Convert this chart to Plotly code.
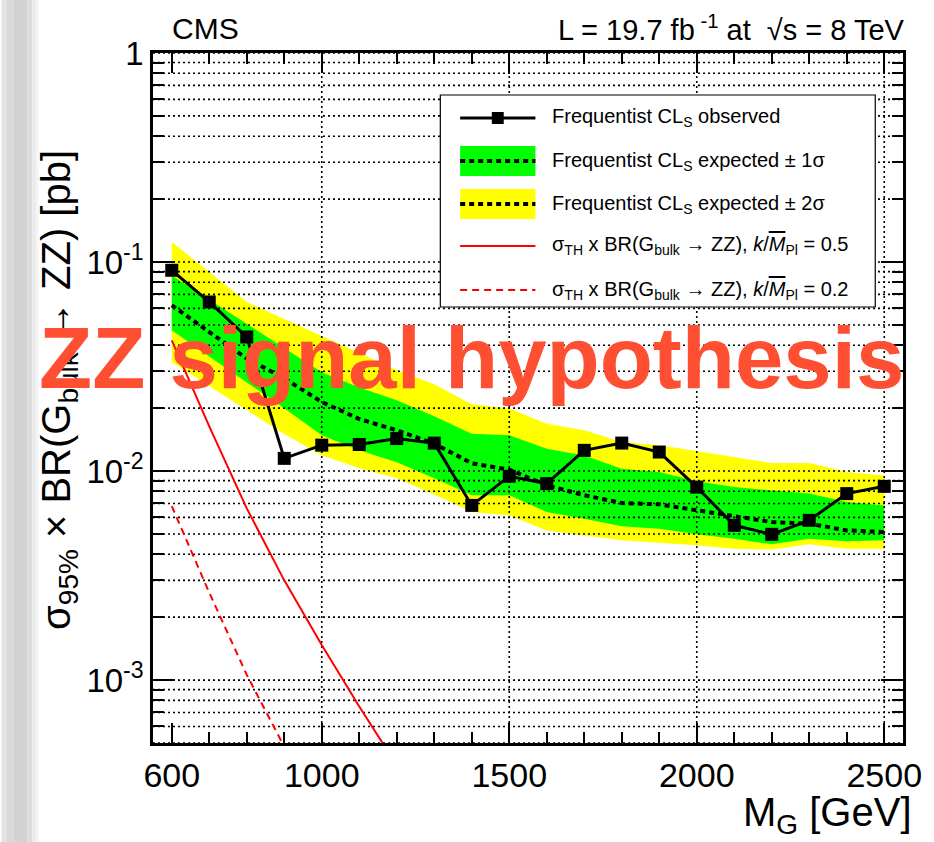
import plotly.graph_objects as go

# ---------------- data ----------------
mass = [600, 700, 800, 900, 1000, 1100, 1200, 1300, 1400, 1500,
        1600, 1700, 1800, 1900, 2000, 2100, 2200, 2300, 2400, 2500]

observed = [0.0913, 0.0644, 0.0438, 0.0115, 0.0133, 0.0134, 0.0143, 0.0136, 0.00685, 0.00944,
            0.00871, 0.01256, 0.01361, 0.01233, 0.00838, 0.00550, 0.00498, 0.00581, 0.00780, 0.00845]

expected = [0.0621, 0.0462, 0.0345, 0.0278, 0.0214, 0.01774, 0.01566, 0.01352, 0.01089, 0.01016,
            0.00855, 0.00766, 0.00703, 0.00693, 0.00649, 0.00603, 0.00570, 0.00560, 0.00520, 0.00511]

exp_p1 = [0.0863, 0.0661, 0.0509, 0.0389, 0.0297, 0.0251, 0.0218, 0.0183, 0.0151, 0.01482,
          0.01279, 0.01188, 0.01026, 0.00989, 0.00893, 0.00838, 0.00809, 0.00780, 0.00711, 0.00685]
exp_m1 = [0.0471, 0.0353, 0.0267, 0.0200, 0.01482, 0.01256, 0.01101, 0.00923, 0.00765, 0.00765,
          0.00637, 0.00592, 0.00544, 0.00530, 0.00498, 0.00475, 0.00446, 0.00475, 0.00462, 0.00466]
exp_p2 = [0.1247, 0.0893, 0.0644, 0.0534, 0.0443, 0.0367, 0.0304, 0.0260, 0.0209, 0.0199,
          0.01686, 0.01566, 0.01377, 0.01328, 0.01243, 0.01167, 0.01092, 0.01092, 0.00989, 0.00953]
exp_m2 = [0.0332, 0.0254, 0.0196, 0.01503, 0.01189, 0.01030, 0.00923, 0.00773, 0.00637, 0.00614,
          0.00520, 0.00492, 0.00466, 0.00452, 0.00441, 0.00425, 0.00421, 0.00446, 0.00425, 0.00425]

# theory cross sections for two couplings
th_mass = [600, 700, 800, 900, 1000, 1100, 1200]
th_k05 = [0.0422, 0.01636, 0.00663, 0.00300, 0.00147, 0.000748, 0.000391]
th_k02 = [0.0068, 0.00262, 0.00106, 0.00048, 0.000235, 0.00012, 0.000063]

x_range = [550, 2550]
y_range = [5e-4, 1.0]
x_tick_vals = [600, 1000, 1500, 2000, 2500]
x_tick_text = ["600", "1000", "1500", "2000", "2500"]
x_grid_vals = [1000, 1500, 2000, 2500]
y_tick_vals = [1e-3, 1e-2, 1e-1, 1.0]
y_tick_text = ["10<sup>-3</sup>", "10<sup>-2</sup>", "10<sup>-1</sup>", "1"]
y_decades = [1e-4, 1e-3, 1e-2, 1e-1]
y_grid_vals = [m * d for d in y_decades for m in range(1, 10)
               if y_range[0] <= m * d <= y_range[1]] + [1.0]
y_minor_vals = [v for v in y_grid_vals if v not in y_tick_vals]

# ---------------- geometry ----------------
W, H = 934, 842
ML, MR, MT, MB = 153, 24, 53, 99
PW, PH = W - ML - MR, H - MT - MB
FONT = "Liberation Sans, Arial, Helvetica, sans-serif"


def px(xp):
    return (xp - ML) / PW


def py(yp):
    return 1 - (yp - MT) / PH


fig = go.Figure()

# +-2 sigma band
fig.add_trace(go.Scatter(x=mass + mass[::-1], y=exp_p2 + exp_m2[::-1], fill="toself",
                         fillcolor="#FFFF00", line=dict(width=0), mode="lines",
                         hoverinfo="skip", showlegend=False))
# +-1 sigma band
fig.add_trace(go.Scatter(x=mass + mass[::-1], y=exp_p1 + exp_m1[::-1], fill="toself",
                         fillcolor="#00FF00", line=dict(width=0), mode="lines",
                         hoverinfo="skip", showlegend=False))

# dotted grid drawn over the bands
gx, gy = [], []
for v in y_grid_vals:
    gx += [x_range[0], x_range[1], None]
    gy += [v, v, None]
for g in x_grid_vals:
    gx += [g, g, None]
    gy += [y_range[0], y_range[1], None]
fig.add_trace(go.Scatter(x=gx, y=gy, mode="lines",
                         line=dict(color="black", width=1.6, dash="2px,3px"),
                         hoverinfo="skip", showlegend=False))

# expected limit
fig.add_trace(go.Scatter(x=mass, y=expected, mode="lines",
                         line=dict(color="black", width=4, dash="5px,4px"),
                         showlegend=False))
# observed limit
fig.add_trace(go.Scatter(x=mass, y=observed, mode="lines+markers",
                         line=dict(color="black", width=3),
                         marker=dict(symbol="square", size=13, color="black"),
                         showlegend=False))
# theory curves
fig.add_trace(go.Scatter(x=th_mass, y=th_k05, mode="lines",
                         line=dict(color="#FF0000", width=2), showlegend=False))
fig.add_trace(go.Scatter(x=th_mass, y=th_k02, mode="lines",
                         line=dict(color="#FF0000", width=2, dash="7px,5px"), showlegend=False))

shapes = []
# grey strip at the far left of the page
strip = [(0, 5, "#e4e4e4"), (5, 12, "#d9d9d9"), (12, 26, "#d2d2d2"),
         (26, 31, "#dcdcdc"), (31, 35, "#ebebeb"), (35, 38, "#f6f6f6")]
for a, b, c in strip:
    shapes.append(dict(type="rect", xref="paper", yref="paper", x0=px(a), x1=px(b),
                       y0=py(H), y1=py(0), fillcolor=c, line=dict(width=0), layer="below"))

# legend box
LX0, LX1, LY0, LY1 = 443, 882, 95, 307
shapes.append(dict(type="rect", xref="paper", yref="paper", x0=px(LX0), x1=px(LX1),
                   y0=py(LY1), y1=py(LY0), fillcolor="white",
                   line=dict(color="black", width=1.2), layer="above"))
SX0, SX1 = 463, 539
rows = [118, 161, 204, 246, 290]
# observed entry
shapes.append(dict(type="line", xref="paper", yref="paper", x0=px(SX0), x1=px(SX1),
                   y0=py(rows[0]), y1=py(rows[0]), line=dict(color="black", width=3), layer="above"))
shapes.append(dict(type="rect", xref="paper", yref="paper", x0=px(495), x1=px(507),
                   y0=py(rows[0] + 6), y1=py(rows[0] - 6), fillcolor="black",
                   line=dict(width=0), layer="above"))
# band entries
for yc, col in [(rows[1], "#00FF00"), (rows[2], "#FFFF00")]:
    shapes.append(dict(type="rect", xref="paper", yref="paper", x0=px(SX0), x1=px(SX1),
                       y0=py(yc + 15), y1=py(yc - 15), fillcolor=col,
                       line=dict(width=0), layer="above"))
    shapes.append(dict(type="line", xref="paper", yref="paper", x0=px(SX0), x1=px(SX1),
                       y0=py(yc), y1=py(yc), line=dict(color="black", width=4, dash="5px,4px"),
                       layer="above"))
# theory entries
shapes.append(dict(type="line", xref="paper", yref="paper", x0=px(SX0), x1=px(SX1),
                   y0=py(rows[3]), y1=py(rows[3]), line=dict(color="#FF0000", width=2), layer="above"))
shapes.append(dict(type="line", xref="paper", yref="paper", x0=px(SX0), x1=px(SX1),
                   y0=py(rows[4]), y1=py(rows[4]), line=dict(color="#FF0000", width=2, dash="7px,5px"),
                   layer="above"))

legend_texts = [
    "Frequentist CL<sub>S</sub> observed",
    "Frequentist CL<sub>S</sub> expected ± 1σ",
    "Frequentist CL<sub>S</sub> expected ± 2σ",
    "σ<sub>TH</sub> x BR(G<sub>bulk</sub> → ZZ), <i>k</i>/<i><span style=\"text-decoration:overline\">M</span></i><sub>Pl</sub> = 0.5",
    "σ<sub>TH</sub> x BR(G<sub>bulk</sub> → ZZ), <i>k</i>/<i><span style=\"text-decoration:overline\">M</span></i><sub>Pl</sub> = 0.2",
]

annotations = []
for yc, t in zip(rows, legend_texts):
    annotations.append(dict(x=px(554), y=py(yc), xref="paper", yref="paper", text=t,
                            xanchor="left", yanchor="middle", showarrow=False,
                            font=dict(family=FONT, size=20, color="black")))

annotations += [
    dict(x=px(170), y=py(28), xref="paper", yref="paper", text="CMS",
         xanchor="left", yanchor="middle", showarrow=False,
         font=dict(family=FONT, size=30, color="black")),
    dict(x=px(914), y=py(28), xref="paper", yref="paper",
         text="L = 19.7 fb<sup> -1</sup> at  √s = 8 TeV",
         xanchor="right", yanchor="middle", showarrow=False,
         font=dict(family=FONT, size=29, color="black")),
    dict(x=px(58), y=py(390), xref="paper", yref="paper",
         text="σ<sub>95%</sub> × BR(G<sub>bulk</sub> → ZZ) [pb]", textangle=-90,
         xanchor="center", yanchor="middle", showarrow=False,
         font=dict(family=FONT, size=40, color="black")),
    dict(x=px(921), y=py(815), xref="paper", yref="paper", text="M<sub>G</sub> [GeV]",
         xanchor="right", yanchor="middle", showarrow=False,
         font=dict(family=FONT, size=40, color="black")),
    dict(x=px(474), y=py(357), xref="paper", yref="paper", text="<b>ZZ signal hypothesis</b>",
         xanchor="center", yanchor="middle", showarrow=False,
         font=dict(family=FONT, size=87, color="#FF4F33")),
]

fig.update_layout(
    width=W, height=H, autosize=False,
    margin=dict(l=ML, r=MR, t=MT, b=MB, pad=0),
    paper_bgcolor="white", plot_bgcolor="white",
    showlegend=False,
    shapes=shapes, annotations=annotations,
    font=dict(family=FONT, color="black"),
)
fig.update_xaxes(range=x_range, showgrid=False, zeroline=False,
                 showline=True, linecolor="black", linewidth=2.5, mirror="allticks",
                 ticks="inside", ticklen=20, tickwidth=1.5, tickcolor="black",
                 tickmode="array", tickvals=x_tick_vals, ticktext=x_tick_text,
                 tickfont=dict(family=FONT, size=34, color="black"),
                 minor=dict(ticks="inside", ticklen=11, tickwidth=1.5, tickcolor="black",
                            dtick=100, tick0=500, showgrid=False))
fig.update_yaxes(type="log", range=[-3.30103, 0], showgrid=False, zeroline=False,
                 showline=True, linecolor="black", linewidth=2.5, mirror="allticks",
                 ticks="inside", ticklen=22, tickwidth=1.5, tickcolor="black",
                 tickmode="array", tickvals=y_tick_vals, ticktext=y_tick_text,
                 tickfont=dict(family=FONT, size=33, color="black"),
                 minor=dict(ticks="inside", ticklen=11, tickwidth=1.5, tickcolor="black",
                            tickmode="array", tickvals=y_minor_vals, showgrid=False))

fig.write_html("out.html")
